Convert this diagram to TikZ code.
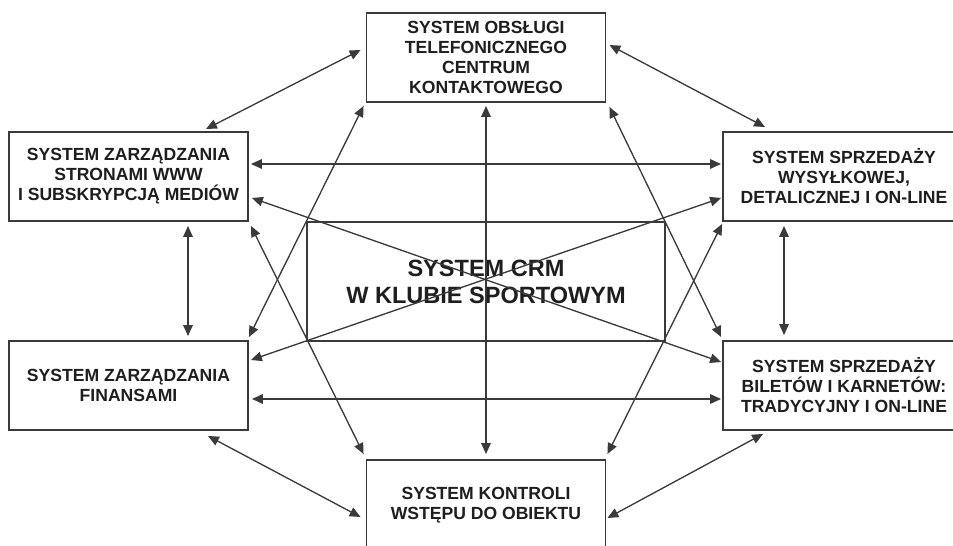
\documentclass[tikz,border=0pt]{standalone}
\usepackage{fontspec}
\setmainfont{Liberation Sans}
\usetikzlibrary{arrows.meta}
\definecolor{boxline}{HTML}{3A3A3A}
\definecolor{txt}{HTML}{1E1E1E}
\tikzset{>={Triangle[length=6.2pt,width=5.4pt]},
  sysbox/.style={draw=boxline, line width=1.1pt, inner sep=0pt, align=center, text=txt,
    font=\fontsize{10}{11.4}\selectfont\bfseries, minimum width=4.78cm, minimum height=1.78cm},
  crmbox/.style={draw=boxline, line width=0.8pt, inner sep=0pt, align=center, text=txt,
    font=\fontsize{13.4}{15.4}\selectfont\bfseries, minimum width=7.16cm, minimum height=2.38cm},
  link/.style={<->, draw=boxline, line width=0.75pt}}

\begin{document}
\begin{tikzpicture}[x=0.02cm, y=-0.02cm]
\path[use as bounding box, fill=white] (0,0) rectangle (953,546);
\clip (0,0) rectangle (953,546);

\node[sysbox] (obsl) at (486,57.5) {SYSTEM OBSŁUGI\\TELEFONICZNEGO\\CENTRUM\\KONTAKTOWEGO};
\node[sysbox] (www) at (128.5,176.5) {SYSTEM ZARZĄDZANIA\\STRONAMI WWW\\I SUBSKRYPCJĄ MEDIÓW};
\node[sysbox, minimum width=4.84cm] (wysyl) at (844,176.5) {SYSTEM SPRZEDAŻY\\WYSYŁKOWEJ,\\DETALICZNEJ I ON-LINE};
\node[sysbox] (fin) at (128.5,385.5) {SYSTEM ZARZĄDZANIA\\FINANSAMI};
\node[sysbox, minimum width=4.84cm] (bilet) at (844,385.5) {SYSTEM SPRZEDAŻY\\BILETÓW I KARNETÓW:\\TRADYCYJNY I ON-LINE};
\node[sysbox, minimum height=1.8cm] (kontr) at (486,505) {SYSTEM KONTROLI\\WSTĘPU DO OBIEKTU};
\node[crmbox] (crm) at (486,281.5) {SYSTEM CRM\\W KLUBIE SPORTOWYM};

% polaczenia
\draw[link] ([shift={(-5,-7.5)}]obsl.west) -- ([shift={(77.5,-2)}]www.north);
\draw[link] ([shift={(3,-12.5)}]obsl.east) -- ([shift={(-79,-4)}]wysyl.north);
\draw[link] ([shift={(0,3)}]obsl.south) -- ([shift={(0,-5)}]kontr.north);
\draw[link] ([shift={(-2,3)}]obsl.south west) -- ([shift={(0,-3)}]fin.north east);
\draw[link] ([shift={(3,4)}]obsl.south east) -- ([shift={(-1,-3)}]bilet.north west);
\draw[link] ([shift={(2,-12.5)}]www.east) -- ([shift={(-1,-12.5)}]wysyl.west);
\draw[link] ([shift={(3,21.5)}]www.east) -- ([shift={(-1,-23.5)}]bilet.west);
\draw[link] ([shift={(2,4)}]www.south east) -- ([shift={(-2,-5)}]kontr.north west);
\draw[link] ([shift={(59.5,4)}]www.south) -- ([shift={(59.5,-4)}]fin.north);
\draw[link] ([shift={(-60,4)}]wysyl.south) -- ([shift={(-60,-5)}]bilet.north);
\draw[link] ([shift={(-1,21.5)}]wysyl.west) -- ([shift={(2,-25.5)}]fin.east);
\draw[link] ([shift={(0,2)}]wysyl.south west) -- ([shift={(1,-5)}]kontr.north east);
\draw[link] ([shift={(3,13.5)}]fin.east) -- ([shift={(-1,13.5)}]bilet.west);
\draw[link] ([shift={(79.5,5)}]fin.south) -- ([shift={(-5,12)}]kontr.west);
\draw[link] ([shift={(-81,3)}]bilet.south) -- ([shift={(1,13)}]kontr.east);
\end{tikzpicture}
\end{document}
